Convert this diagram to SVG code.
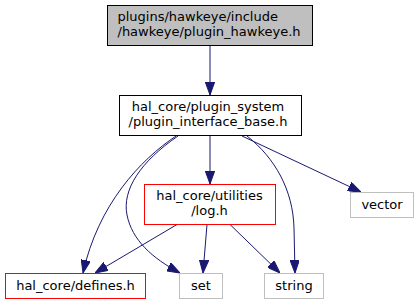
<svg xmlns="http://www.w3.org/2000/svg" width="419" height="305" viewBox="0 0 419 305">
<style>
text{font-family:"DejaVu Sans","Liberation Sans",sans-serif;font-size:13px;fill:#000}
.m{text-anchor:middle}
.box{fill:#fff;stroke-width:1}
.cur{fill:#bfbfbf;stroke:#000}
.blk{stroke:#000}
.red{stroke:#ff0000}
.gry{stroke:#bfbfbf}
.e{fill:none;stroke:#191970;stroke-width:1;marker-end:url(#ah)}
</style>
<defs>
<marker id="ah" viewBox="0 0 13 9.4" refX="13" refY="4.7" markerWidth="13" markerHeight="9.4" markerUnits="userSpaceOnUse" orient="auto">
<path d="M0,0 L13,4.7 L0,9.4 z" fill="#191970" stroke="#191970" stroke-width="1"/>
</marker>
</defs>
<rect width="419" height="305" fill="#fff"/>
<g id="edges">
<path class="e" d="M210,45.5 L210,95"/>
<path class="e" d="M210,135.5 L210,184"/>
<path class="e" d="M242,136 L361,192"/>
<path class="e" d="M247,136 C275,158 293,190 294,228 L295,273"/>
<path class="e" d="M176,136 C140,160 98,205 83,273"/>
<path class="e" d="M178,136 C140,162 122,190 127,215 C132,240 152,258 180,273"/>
<path class="e" d="M177,224.5 L95,273"/>
<path class="e" d="M207,224.5 L203,273"/>
<path class="e" d="M230,224.5 L280,273"/>
</g>
<g id="plugin_hawkeye">
<rect class="box cur" x="107.5" y="5.5" width="205" height="40"/>
<text x="117.5" y="21">plugins/hawkeye/include</text>
<text x="117.5" y="36">/hawkeye/plugin_hawkeye.h</text>
</g>
<g id="plugin_interface_base">
<rect class="box blk" x="119.5" y="95.5" width="182" height="40"/>
<text class="m" x="208" y="111">hal_core/plugin_system</text>
<text class="m" x="208" y="126">/plugin_interface_base.h</text>
</g>
<g id="log">
<rect class="box red" x="144.5" y="184.5" width="131" height="40"/>
<text class="m" x="209.5" y="200">hal_core/utilities</text>
<text class="m" x="209.5" y="215">/log.h</text>
</g>
<g id="defines">
<rect class="box red" x="5.5" y="273.5" width="140" height="25"/>
<text class="m" x="75.5" y="289.5">hal_core/defines.h</text>
</g>
<g id="set">
<rect class="box gry" x="179.5" y="273.5" width="43" height="25"/>
<text class="m" x="201" y="289.5">set</text>
</g>
<g id="string">
<rect class="box gry" x="264.5" y="273.5" width="59" height="25"/>
<text class="m" x="294" y="289.5">string</text>
</g>
<g id="vector">
<rect class="box gry" x="350.5" y="192.5" width="63" height="25"/>
<text class="m" x="382" y="208.5">vector</text>
</g>
</svg>
